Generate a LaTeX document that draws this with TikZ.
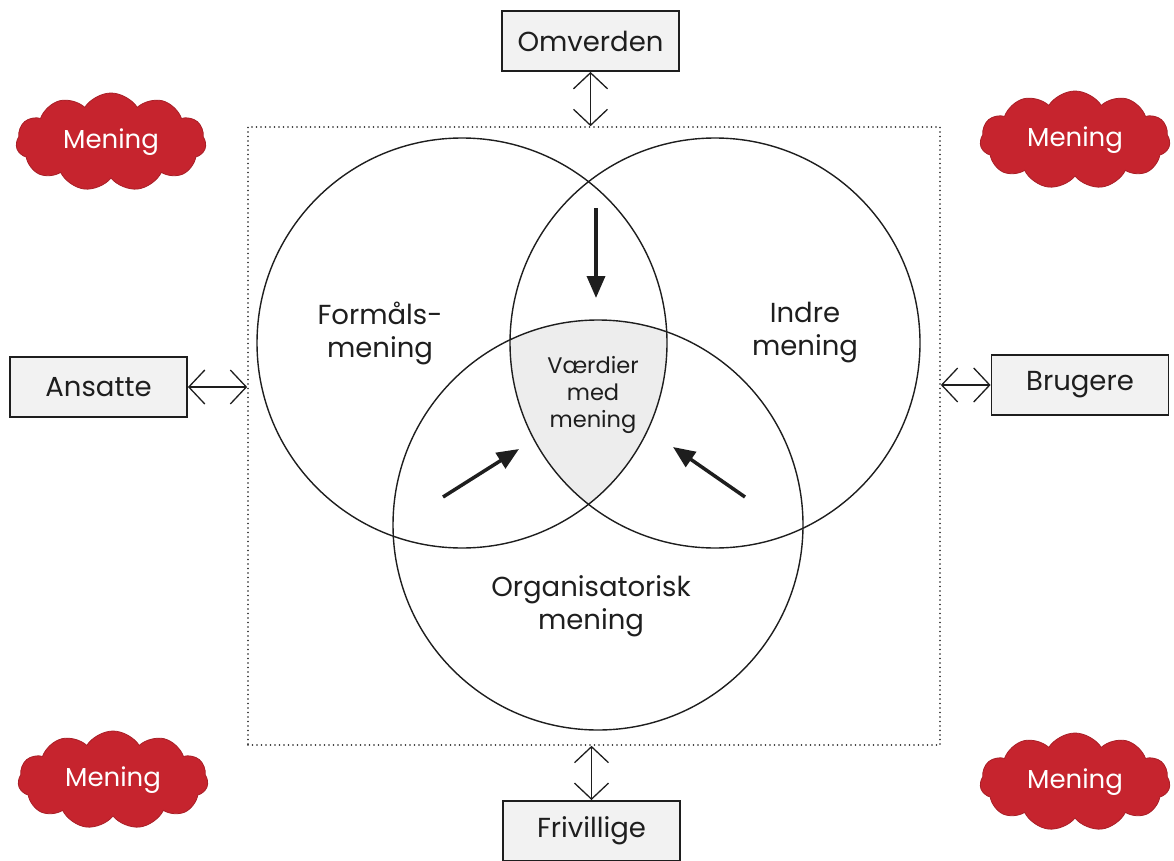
\documentclass[tikz,border=0pt]{standalone}
\usepackage{fontspec}
\setmainfont{Poppins}
\usetikzlibrary{arrows.meta,shapes.symbols}
\definecolor{cloudred}{RGB}{198,36,46}
\definecolor{ink}{RGB}{30,30,30}
\tikzset{
  lbl/.style={font=\fontsize{27.5}{33}\selectfont, text=ink, align=center},
  smalllbl/.style={font=\fontsize{22.5}{27}\selectfont, text=ink, align=center},
  actor/.style={draw=ink, line width=1.8pt, fill=gray!10, minimum width=177pt, minimum height=60pt, inner sep=0pt, font=\fontsize{27.5}{33}\selectfont, text=ink},
  mening/.style={cloud, cloud puffs=11, cloud puff arc=115, aspect=2.1, fill=cloudred, draw=cloudred!85!black, line width=0.8pt, minimum width=190pt, minimum height=98pt, inner sep=0pt, text=white, font=\fontsize{26}{30}\selectfont},
  ring/.style={circle, draw=ink, line width=1.4pt, minimum size=410pt, inner sep=0pt, outer sep=0pt},
  link/.style={draw=ink, line width=1.3pt, {Straight Barb[length=16pt,width=34pt,line width=1.3pt]}-{Straight Barb[length=16pt,width=34pt,line width=1.3pt]}},
  push/.style={draw=ink, line width=3.5pt, -{Triangle[length=22pt,width=18pt]}},
}
\begin{document}
\begin{tikzpicture}[x=1pt,y=-1pt]
\useasboundingbox (0,0) rectangle (1174,861);
% shaded common region
\begin{scope}
  \clip (462,343) circle [radius=205pt];
  \clip (715,343) circle [radius=205pt];
  \fill[gray!14] (598,525) circle [radius=205pt];
\end{scope}
\node[ring] (form) at (462,343) {};
\node[ring] (indre) at (715,343) {};
\node[ring] (org) at (598,525) {};
% frame
\node[draw=ink, line width=1.6pt, line cap=round, dash pattern=on 0pt off 4.5pt, minimum width=692pt, minimum height=618pt, inner sep=0pt] (frame) at (594,436) {};
% labels
\node[lbl] (tform) at (380,333) {Formåls-\\mening};
\node[lbl] (tindre) at (805,333) {Indre\\mening};
\node[lbl] (torg) at (591,606) {Organisatorisk\\mening};
\node[smalllbl] (tval) at (593,395) {Værdier\\med\\mening};
% inner arrows
\coordinate (d1) at (596,208);
\coordinate (d2) at (596,298);
\coordinate (l1) at (443,497);
\coordinate (l2) at (519,449);
\coordinate (r1) at (745,497);
\coordinate (r2) at (673,447);
\draw[push] (d1) -- (d2);
\draw[push] (l1) -- (l2);
\draw[push] (r1) -- (r2);
% actors
\node[actor] (omv) at (590.5,41) {Omverden};
\node[actor] (ans) at (98.5,387) {Ansatte};
\node[actor] (bru) at (1080,385) {Brugere};
\node[actor, anchor=north] (fri) at (591.5,800) {Frivillige};
\draw[link] (omv.south) -- (omv.south |- frame.north);
\draw[link] (ans.east) -- (ans.east -| frame.west);
\draw[link] (frame.east |- bru.west) -- (bru.west);
\draw[link] (frame.south -| fri.north) -- (fri.north);
% clouds
\node[mening] (m1) at (111,142) {Mening};
\node[mening] (m2) at (1075,140) {Mening};
\node[mening] (m3) at (113,780) {Mening};
\node[mening] (m4) at (1075,782) {Mening};
\end{tikzpicture}
\end{document}
